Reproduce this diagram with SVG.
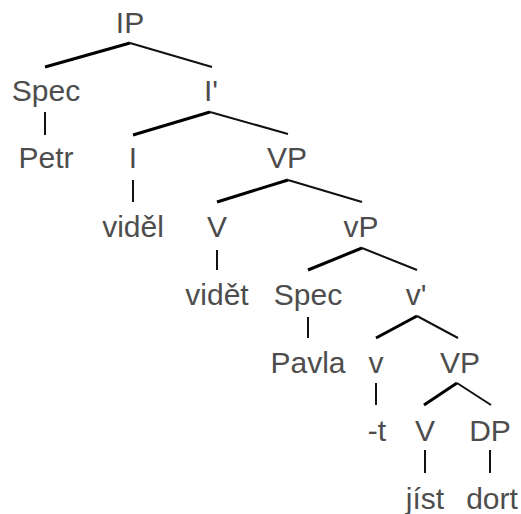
<svg xmlns="http://www.w3.org/2000/svg" width="521" height="514" viewBox="0 0 521 514">
  <style>
    text { font-family: "Liberation Sans", Arial, sans-serif; font-size: 30px; fill: #4d4d4d; text-anchor: middle; }
    .l { stroke: #000; stroke-width: 3; fill: none; stroke-linecap: butt; }
    .r { stroke: #111; stroke-width: 2; fill: none; stroke-linecap: butt; }
  </style>
  <rect width="521" height="514" fill="#fff"/>
  <g id="connectors">
    <!-- IP -->
    <line class="l" x1="130" y1="43" x2="45" y2="67"/>
    <line class="r" x1="130" y1="43" x2="212" y2="67"/>
    <!-- Spec - Petr -->
    <line class="r" x1="45" y1="112" x2="45" y2="135"/>
    <!-- I' -->
    <line class="l" x1="210" y1="112" x2="133" y2="135"/>
    <line class="r" x1="210" y1="112" x2="288" y2="134"/>
    <!-- I - viděl -->
    <line class="r" x1="133" y1="180" x2="133" y2="202"/>
    <!-- VP -->
    <line class="l" x1="288" y1="180" x2="217" y2="202"/>
    <line class="r" x1="288" y1="180" x2="362" y2="202"/>
    <!-- V - vidět -->
    <line class="r" x1="217" y1="250" x2="217" y2="270"/>
    <!-- vP -->
    <line class="l" x1="362" y1="248" x2="308" y2="270"/>
    <line class="r" x1="362" y1="248" x2="417" y2="270"/>
    <!-- Spec - Pavla -->
    <line class="r" x1="308" y1="317" x2="308" y2="338"/>
    <!-- v' -->
    <line class="l" x1="417" y1="316" x2="376" y2="338"/>
    <line class="r" x1="417" y1="316" x2="458" y2="338"/>
    <!-- v - -t -->
    <line class="r" x1="376" y1="383" x2="376" y2="405"/>
    <!-- VP (lower) -->
    <line class="l" x1="457" y1="383" x2="424" y2="405"/>
    <line class="r" x1="457" y1="383" x2="491" y2="405"/>
    <!-- V - jíst, DP - dort -->
    <line class="r" x1="425" y1="450" x2="425" y2="473"/>
    <line class="r" x1="490" y1="450" x2="490" y2="473"/>
  </g>
  <g id="n-ip"><text x="130" y="33">IP</text></g>
  <g id="n-spec1"><text x="46" y="101">Spec</text></g>
  <g id="n-ibar"><text x="211" y="101">I'</text></g>
  <g id="n-petr"><text x="46" y="168">Petr</text></g>
  <g id="n-i"><text x="133" y="168">I</text></g>
  <g id="n-vp1"><text x="287" y="168">VP</text></g>
  <g id="n-videl"><text x="133" y="237">viděl</text></g>
  <g id="n-v1"><text x="217" y="237">V</text></g>
  <g id="n-vp-small"><text x="361" y="237">vP</text></g>
  <g id="n-videt"><text x="217" y="305">vidět</text></g>
  <g id="n-spec2"><text x="308" y="305">Spec</text></g>
  <g id="n-vbar"><text x="416" y="305">v'</text></g>
  <g id="n-pavla"><text x="308" y="373">Pavla</text></g>
  <g id="n-v-small"><text x="376" y="373">v</text></g>
  <g id="n-vp2"><text x="460" y="373">VP</text></g>
  <g id="n-t"><text x="377" y="441">-t</text></g>
  <g id="n-v2"><text x="425" y="441">V</text></g>
  <g id="n-dp"><text x="490" y="441">DP</text></g>
  <g id="n-jist"><text x="425" y="509">jíst</text></g>
  <g id="n-dort"><text x="492" y="509">dort</text></g>
</svg>
